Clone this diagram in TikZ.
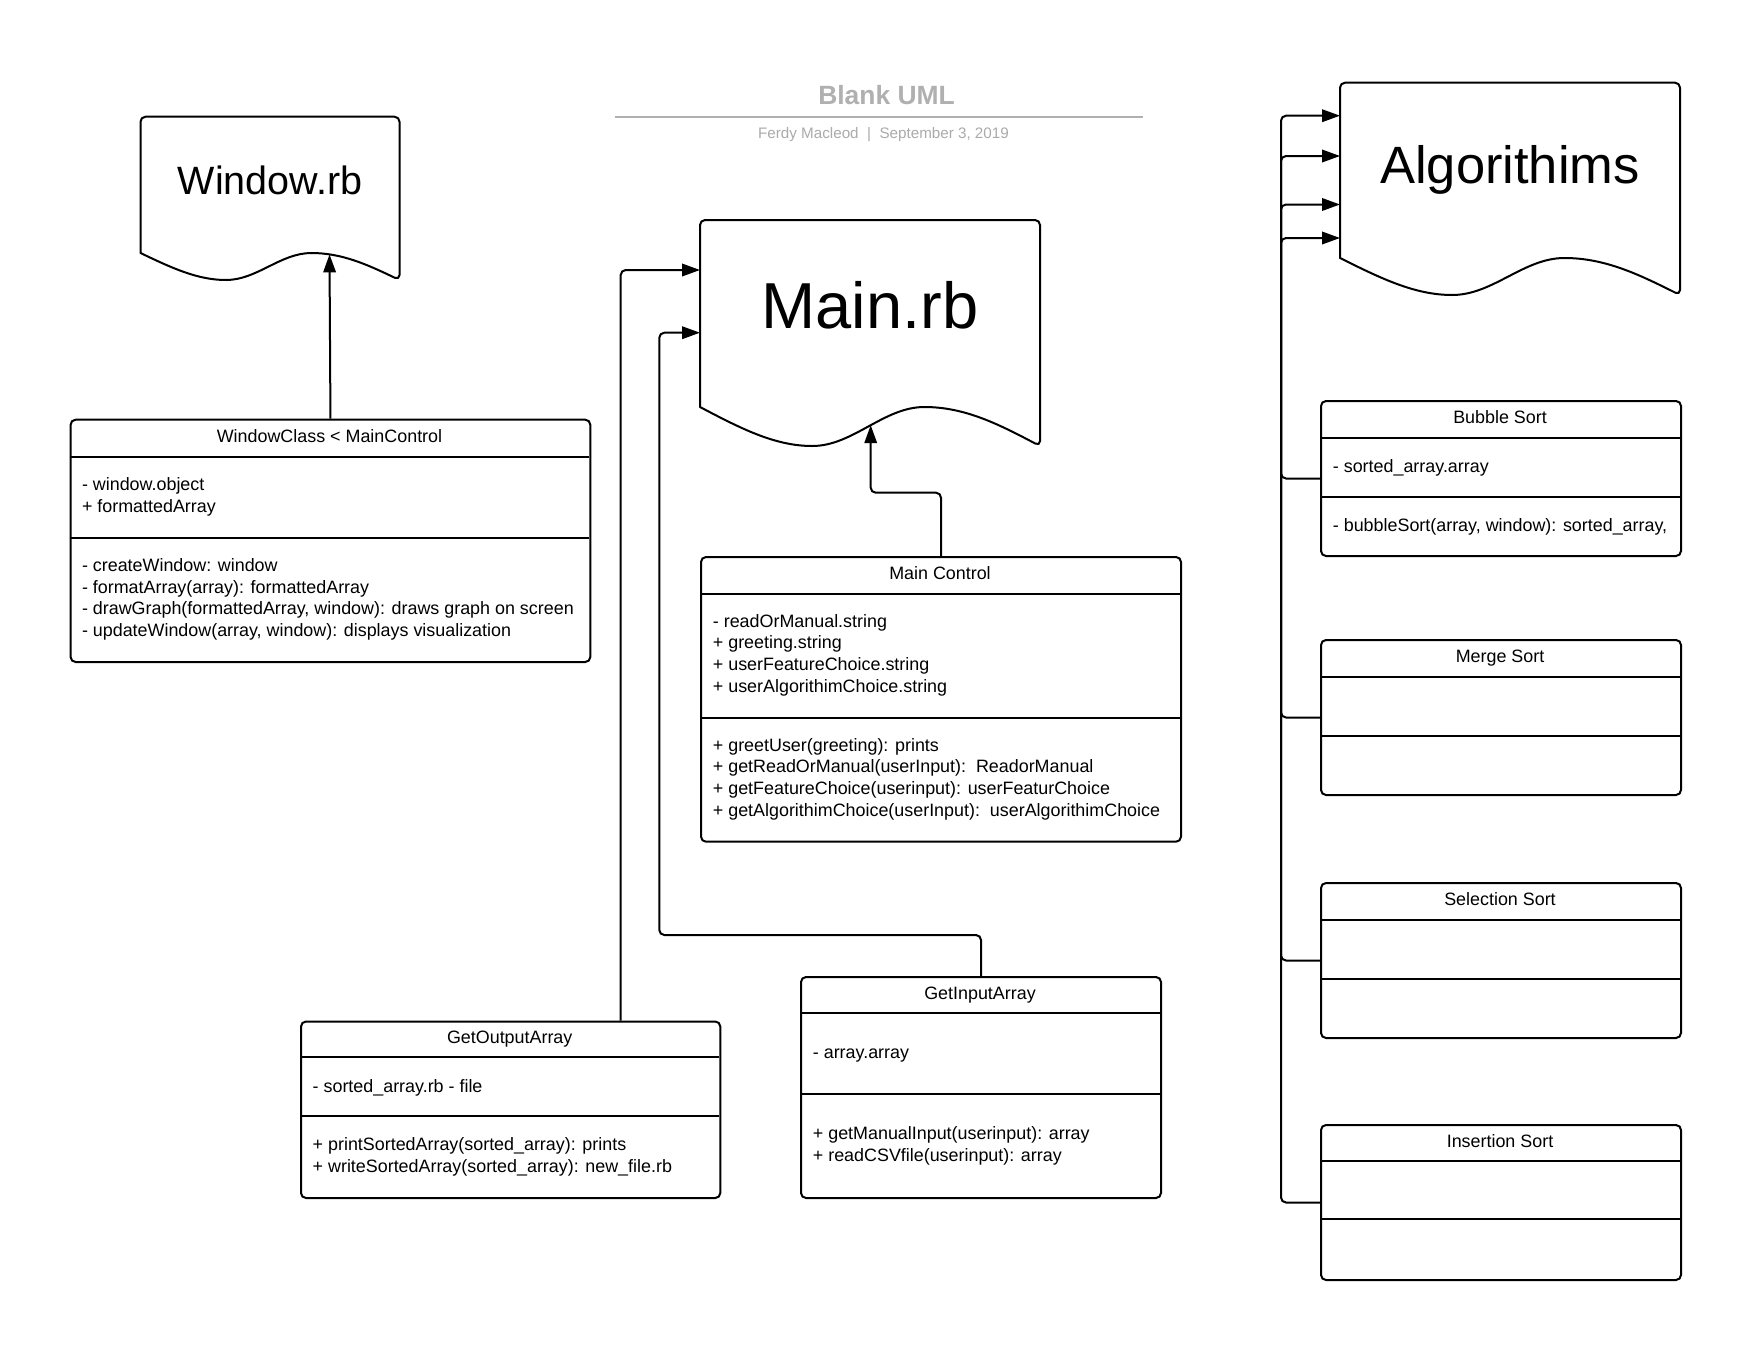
\documentclass[tikz,border=0pt]{standalone}
\usepackage{fontspec}
\setmainfont{Liberation Sans}
\usetikzlibrary{arrows.meta}
\definecolor{ttl}{HTML}{B0B0B0}
\definecolor{sub}{HTML}{ABABAB}
\tikzset{
  ln/.style={line width=2pt, black},
  arr/.style={ln, -{Triangle[length=18pt,width=12.5pt]}, rounded corners=5pt},
  umlbox/.style={draw, line width=2pt, rounded corners=5pt, inner sep=0pt, anchor=north west},
  body/.style={font=\fontsize{17.9}{21.6}\selectfont, anchor=base west, inner sep=0pt},
  head/.style={font=\fontsize{17.9}{21.6}\selectfont, anchor=base, inner sep=0pt},
  docline/.style={line width=2pt, black, line join=round},
}
\newcommand{\mydoc}[5]{%
  \pgfmathsetmacro\dW{#2-#1}%
  \draw[docline] (#2,{#4+#5}) .. controls ({#1+0.88*\dW},{#4+0.45*#5}) and ({#1+0.78*\dW},#4) .. ({#1+0.66*\dW},#4)
    .. controls ({#1+0.54*\dW},#4) and ({#1+0.45*\dW},{#4+#5}) .. ({#1+0.33*\dW},{#4+#5})
    .. controls ({#1+0.22*\dW},{#4+#5}) and ({#1+0.12*\dW},{#4+0.55*#5}) .. (#1,#4)
    [rounded corners=5pt] -- (#1,#3) -- (#2,#3) -- cycle;
}
\newcommand{\umlclass}[7]{%
  \node[umlbox, minimum width={#4-#2}, minimum height={#5-#3}] (#1) at (#2,#3) {};
  \draw[ln] (#2,#6) -- (#4,#6);
  \draw[ln] (#2,#7) -- (#4,#7);
}
\begin{document}
\begin{tikzpicture}[x=1pt,y=-1pt]
\fill[white] (0,0) rectangle (1760,1360);
\useasboundingbox (0,0) rectangle (1760,1360);

% title block
\node[font=\bfseries\fontsize{26.4}{30}\selectfont, text=ttl, anchor=base, inner sep=0pt] (title) at (886.5,104.5) {Blank UML};
\draw[line width=2pt, ttl] (615,117) -- (1142.6,117);
\node[font=\fontsize{15.2}{18}\selectfont, text=sub, anchor=base, inner sep=0pt] (subtitle) at (883.5,138) {Ferdy Macleod\ \ |\ \ September 3, 2019};

% documents
\mydoc{140.5}{399.5}{116.7}{253}{27}
\node[font=\fontsize{39.5}{47}\selectfont, anchor=base, inner sep=0pt] (wtxt) at (270,194) {Window.rb};
\mydoc{700}{1040}{220}{407}{39}
\node[font=\fontsize{65}{78}\selectfont, anchor=base, inner sep=0pt] (mtxt) at (870,328.5) {Main.rb};
\mydoc{1340}{1680}{82.7}{258}{37}
\node[font=\fontsize{52.5}{63}\selectfont, anchor=base, inner sep=0pt] (atxt) at (1510,183) {Algorithims};

\coordinate (winIn) at (329.5,254.4);
\coordinate (mainIn) at (870.7,425.2);
\coordinate (mainA) at (700,270);
\coordinate (mainB) at (700,332.7);
\coordinate (alg1) at (1340,115.7);
\coordinate (alg2) at (1340,156);
\coordinate (alg3) at (1340,204.5);
\coordinate (alg4) at (1340,238);

% WindowClass
\umlclass{wc}{69.6}{418.7}{589.3}{661}{456.8}{537.6}
\node[head] (wch) at (329.5,442) {WindowClass < MainControl};
\node[body] (wca1) at (81.8,490.5) {- window.object};
\node[body] (wca2) at (81.8,512.1) {+ formattedArray};
\node[body] (wcm1) at (81.8,571.7) {- createWindow: window};
\node[body] (wcm2) at (81.8,593.3) {- formatArray(array): formattedArray};
\node[body] (wcm3) at (81.8,614.9) {- drawGraph(formattedArray, window): draws graph on screen};
\node[body] (wcm4) at (81.8,636.5) {- updateWindow(array, window): displays visualization};

% Main Control
\umlclass{mc}{700}{556}{1180}{840.7}{593.5}{717.5}
\node[head] (mch) at (940,579.3) {Main Control};
\node[body] (mca1) at (712.7,627.3) {- readOrManual.string};
\node[body] (mca2) at (712.7,648.9) {+ greeting.string};
\node[body] (mca3) at (712.7,670.5) {+ userFeatureChoice.string};
\node[body] (mca4) at (712.7,692.1) {+ userAlgorithimChoice.string};
\node[body] (mcm1) at (712.7,751.2) {+ greetUser(greeting): prints};
\node[body] (mcm2) at (712.7,772.8) {+ getReadOrManual(userInput):\ \ ReadorManual};
\node[body] (mcm3) at (712.7,794.4) {+ getFeatureChoice(userinput): userFeaturChoice};
\node[body] (mcm4) at (712.7,816) {+ getAlgorithimChoice(userInput):\ \ userAlgorithimChoice};

% GetOutputArray
\umlclass{go}{300}{1020.5}{719.3}{1197}{1057}{1116}
\node[head] (goh) at (509.7,1043.8) {GetOutputArray};
\node[body] (goa1) at (312.5,1092.3) {- sorted\_array.rb - file};
\node[body] (gom1) at (312.5,1150.3) {+ printSortedArray(sorted\_array): prints};
\node[body] (gom2) at (312.5,1172) {+ writeSortedArray(sorted\_array): new\_file.rb};

% GetInputArray
\umlclass{gi}{800}{976}{1160}{1197}{1013}{1094}
\node[head] (gih) at (980,999.3) {GetInputArray};
\node[body] (gia1) at (812.7,1058.6) {- array.array};
\node[body] (gim1) at (812.7,1139.6) {+ getManualInput(userinput): array};
\node[body] (gim2) at (812.7,1161.3) {+ readCSVfile(userinput): array};

% sort classes
\umlclass{bs}{1320}{400}{1680}{555}{437.7}{497}
\node[head] (bsh) at (1500,423.3) {Bubble Sort};
\node[body] (bsa1) at (1332.7,472.3) {- sorted\_array.array};
\node[body] (bsm1) at (1332.7,531.7) {- bubbleSort(array, window): sorted\_array,};
\umlclass{ms}{1320}{639}{1680}{794}{676.7}{736}
\node[head] (msh) at (1500,662.3) {Merge Sort};
\umlclass{ss}{1320}{882}{1680}{1037}{920}{979}
\node[head] (ssh) at (1500,905.3) {Selection Sort};
\umlclass{is}{1320}{1124}{1680}{1279}{1161}{1219}
\node[head] (ish) at (1500,1147.3) {Insertion Sort};

% connectors
\draw[arr] (wc.north) -- (winIn);
\draw[arr] (mc.north) |- (mainIn |- 0,492.7) -- (mainIn);
\draw[arr] (go.north -| 620.7,0) |- (mainA);
\draw[arr] (gi.north) |- (659.3,935) |- (mainB);
\draw[arr] (bs.west) -| (alg1 -| 1281,0) -- (alg1);
\draw[arr] (ms.west) -| (alg2 -| 1281,0) -- (alg2);
\draw[arr] (ss.west) -| (alg3 -| 1281,0) -- (alg3);
\draw[arr] (is.west) -| (alg4 -| 1281,0) -- (alg4);
\end{tikzpicture}
\end{document}
